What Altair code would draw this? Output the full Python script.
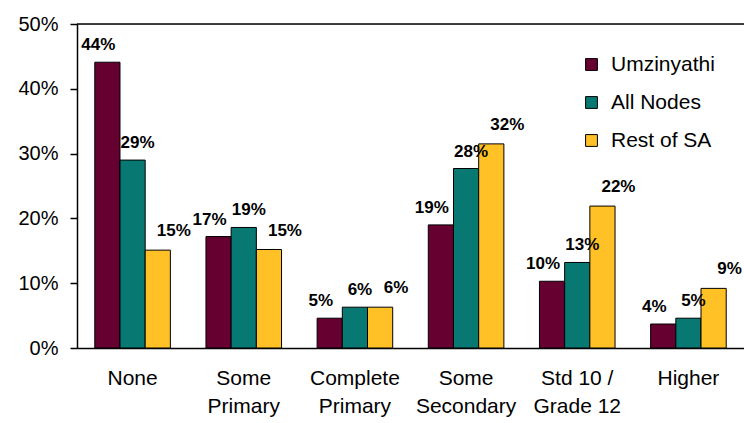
import altair as alt
import pandas as pd

# Highest education level attained, share of adults by area
categories = ["None", "Some\nPrimary", "Complete\nPrimary", "Some\nSecondary", "Std 10 /\nGrade 12", "Higher"]
series = ["Umzinyathi", "All Nodes", "Rest of SA"]
umzinyathi = [0.441, 0.172, 0.046, 0.190, 0.103, 0.037]
all_nodes = [0.290, 0.186, 0.063, 0.277, 0.132, 0.046]
rest_of_sa = [0.151, 0.152, 0.063, 0.315, 0.219, 0.092]
colors = ["#650030", "#077872", "#FFC125"]

rows = []
for name, vals in zip(series, [umzinyathi, all_nodes, rest_of_sa]):
    for cat, v in zip(categories, vals):
        rows.append({"level": cat, "area": name, "share": v})
df = pd.DataFrame(rows)

FONT = "Liberation Sans"

x = alt.X(
    "level:N",
    sort=categories,
    scale=alt.Scale(paddingInner=0.32, paddingOuter=0.16),
    axis=alt.Axis(
        title=None,
        labelAngle=0,
        labelExpr="split(datum.value, '\\n')",
        labelFont=FONT,
        labelFontSize=21,
        labelColor="black",
        labelPadding=19,
        labelLineHeight=28,
        labelBaseline="top",
        ticks=False,
        domainColor="black",
        domainWidth=1.5,
    ),
)
xoff = alt.XOffset("area:N", sort=series, scale=alt.Scale(paddingInner=0, paddingOuter=0))
y = alt.Y(
    "share:Q",
    scale=alt.Scale(domain=[0, 0.5], nice=False),
    axis=alt.Axis(
        title=None,
        format=".0%",
        values=[0, 0.1, 0.2, 0.3, 0.4, 0.5],
        grid=False,
        labelFont=FONT,
        labelFontSize=20,
        labelColor="black",
        labelPadding=12,
        tickSize=7,
        tickColor="black",
        tickWidth=1.5,
        domainColor="black",
        domainWidth=1.5,
    ),
)
color = alt.Color(
    "area:N",
    sort=series,
    scale=alt.Scale(domain=series, range=colors),
    legend=alt.Legend(
        title=None,
        orient="none",
        legendX=504,
        legendY=30,
        symbolType="square",
        symbolSize=140,
        symbolStrokeColor="black",
        symbolStrokeWidth=1,
        symbolOpacity=1,
        labelFont=FONT,
        labelFontSize=21,
        labelColor="black",
        rowPadding=16,
        labelOffset=9,
        labelLimit=200,
    ),
)

bars = alt.Chart(df).mark_bar(stroke="black", strokeWidth=1).encode(
    x=x, xOffset=xoff, y=y, color=color
)

# Value labels: each series' labels sit slightly to one side of its bar
label_shift = {"Umzinyathi": (-9, -8), "All Nodes": (5, -8), "Rest of SA": (16, -10)}
label_layers = []
for name in series:
    dx, dy = label_shift[name]
    label_layers.append(
        alt.Chart(df)
        .transform_filter(alt.datum.area == name)
        .mark_text(
            font=FONT, fontSize=17, fontWeight="bold", baseline="bottom",
            dx=dx, dy=dy, color="black",
        )
        .encode(
            x=alt.X("level:N", sort=categories),
            xOffset=alt.XOffset("area:N", sort=series),
            y="share:Q",
            text=alt.Text("share:Q", format=".0%"),
        )
    )

top_line = alt.Chart(pd.DataFrame({"v": [0.5]})).mark_rule(
    color="black", strokeWidth=1.5
).encode(y="v:Q", x=alt.value(0), x2=alt.value(667))

chart = (
    alt.layer(bars, *label_layers, top_line)
    .properties(
        width=667,
        height=324,
        autosize=alt.AutoSizeParams(type="none"),
        padding={"left": 77, "top": 24, "right": 0, "bottom": 75},
    )
    .configure_view(stroke=None)
    .configure(background="white")
)

chart.save("out.html", embed_options={"renderer": "svg", "actions": False})
